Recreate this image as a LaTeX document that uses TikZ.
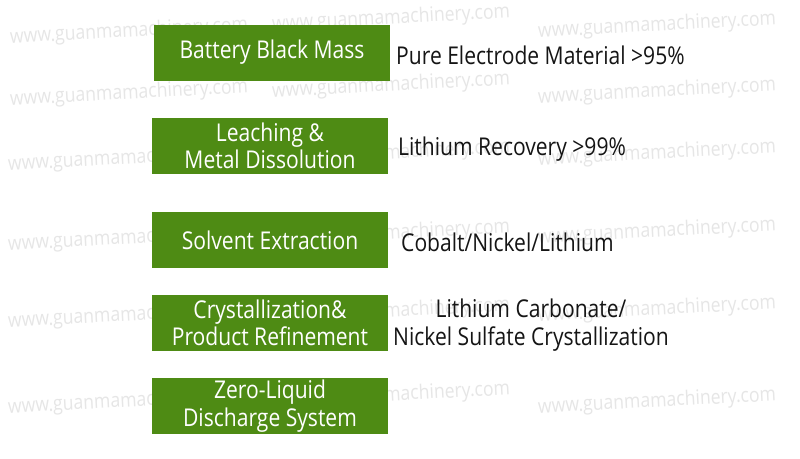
\documentclass[tikz,border=0pt]{standalone}
\usepackage{fontspec}
\setmainfont[FakeStretch=0.86]{Open Sans}
\newfontfamily\wmfont[FakeStretch=0.88]{Open Sans}
\definecolor{boxgreen}{HTML}{4E8B14}
\definecolor{wmgray}{HTML}{E6E6E6}
\definecolor{labelblack}{HTML}{151515}
\begin{document}
\begin{tikzpicture}[x=1pt,y=-1pt,
  stepbox/.style={fill=boxgreen,text=white,minimum width=236pt,minimum height=56pt,
    inner sep=0pt,align=center,font=\fontsize{24.5}{27.5}\selectfont},
  sidelabel/.style={text=labelblack,inner sep=0pt,align=center,font=\fontsize{24.5}{27.5}\selectfont},
  wm/.style={text=wmgray,inner sep=0pt,anchor=west,rotate=3,font=\wmfont\fontsize{20}{22}\selectfont}]
\useasboundingbox[fill=white] (0,0) rectangle (800,458);
% watermarks
\foreach \px/\py [count=\i] in {10/38,10/100,8/165,8/245,8/322,8/408,
  272/25,272/92,272/160,272/240,272/318,272/402,
  538/32,538/98,538/160,538/238,538/316,538/408}{
  \node[wm] (wm\i) at (\px,\py) {www.guanmamachinery.com};
}
% boxes
\node[stepbox] (b1) at (272,52.5) {Battery Black Mass};
\node[stepbox] (b2) at (270,146) {Leaching \&\\Metal Dissolution};
\node[stepbox] (b3) at (270,240) {Solvent Extraction};
\node[stepbox] (b4) at (270,323) {Crystallization\&\\Product Refinement};
\node[stepbox] (b5) at (270,406) {Zero-Liquid\\Discharge System};
% labels
\node[sidelabel,anchor=west] (l1) at (396,55) {Pure Electrode Material >95\%};
\node[sidelabel,anchor=west] (l2) at (398,149) {Lithium Recovery >99\%};
\node[sidelabel,anchor=west] (l3) at (401,242) {Cobalt/Nickel/Lithium};
\node[sidelabel] (l4) at (531,325) {Lithium Carbonate/\\Nickel Sulfate Crystallization};
\end{tikzpicture}
\end{document}
